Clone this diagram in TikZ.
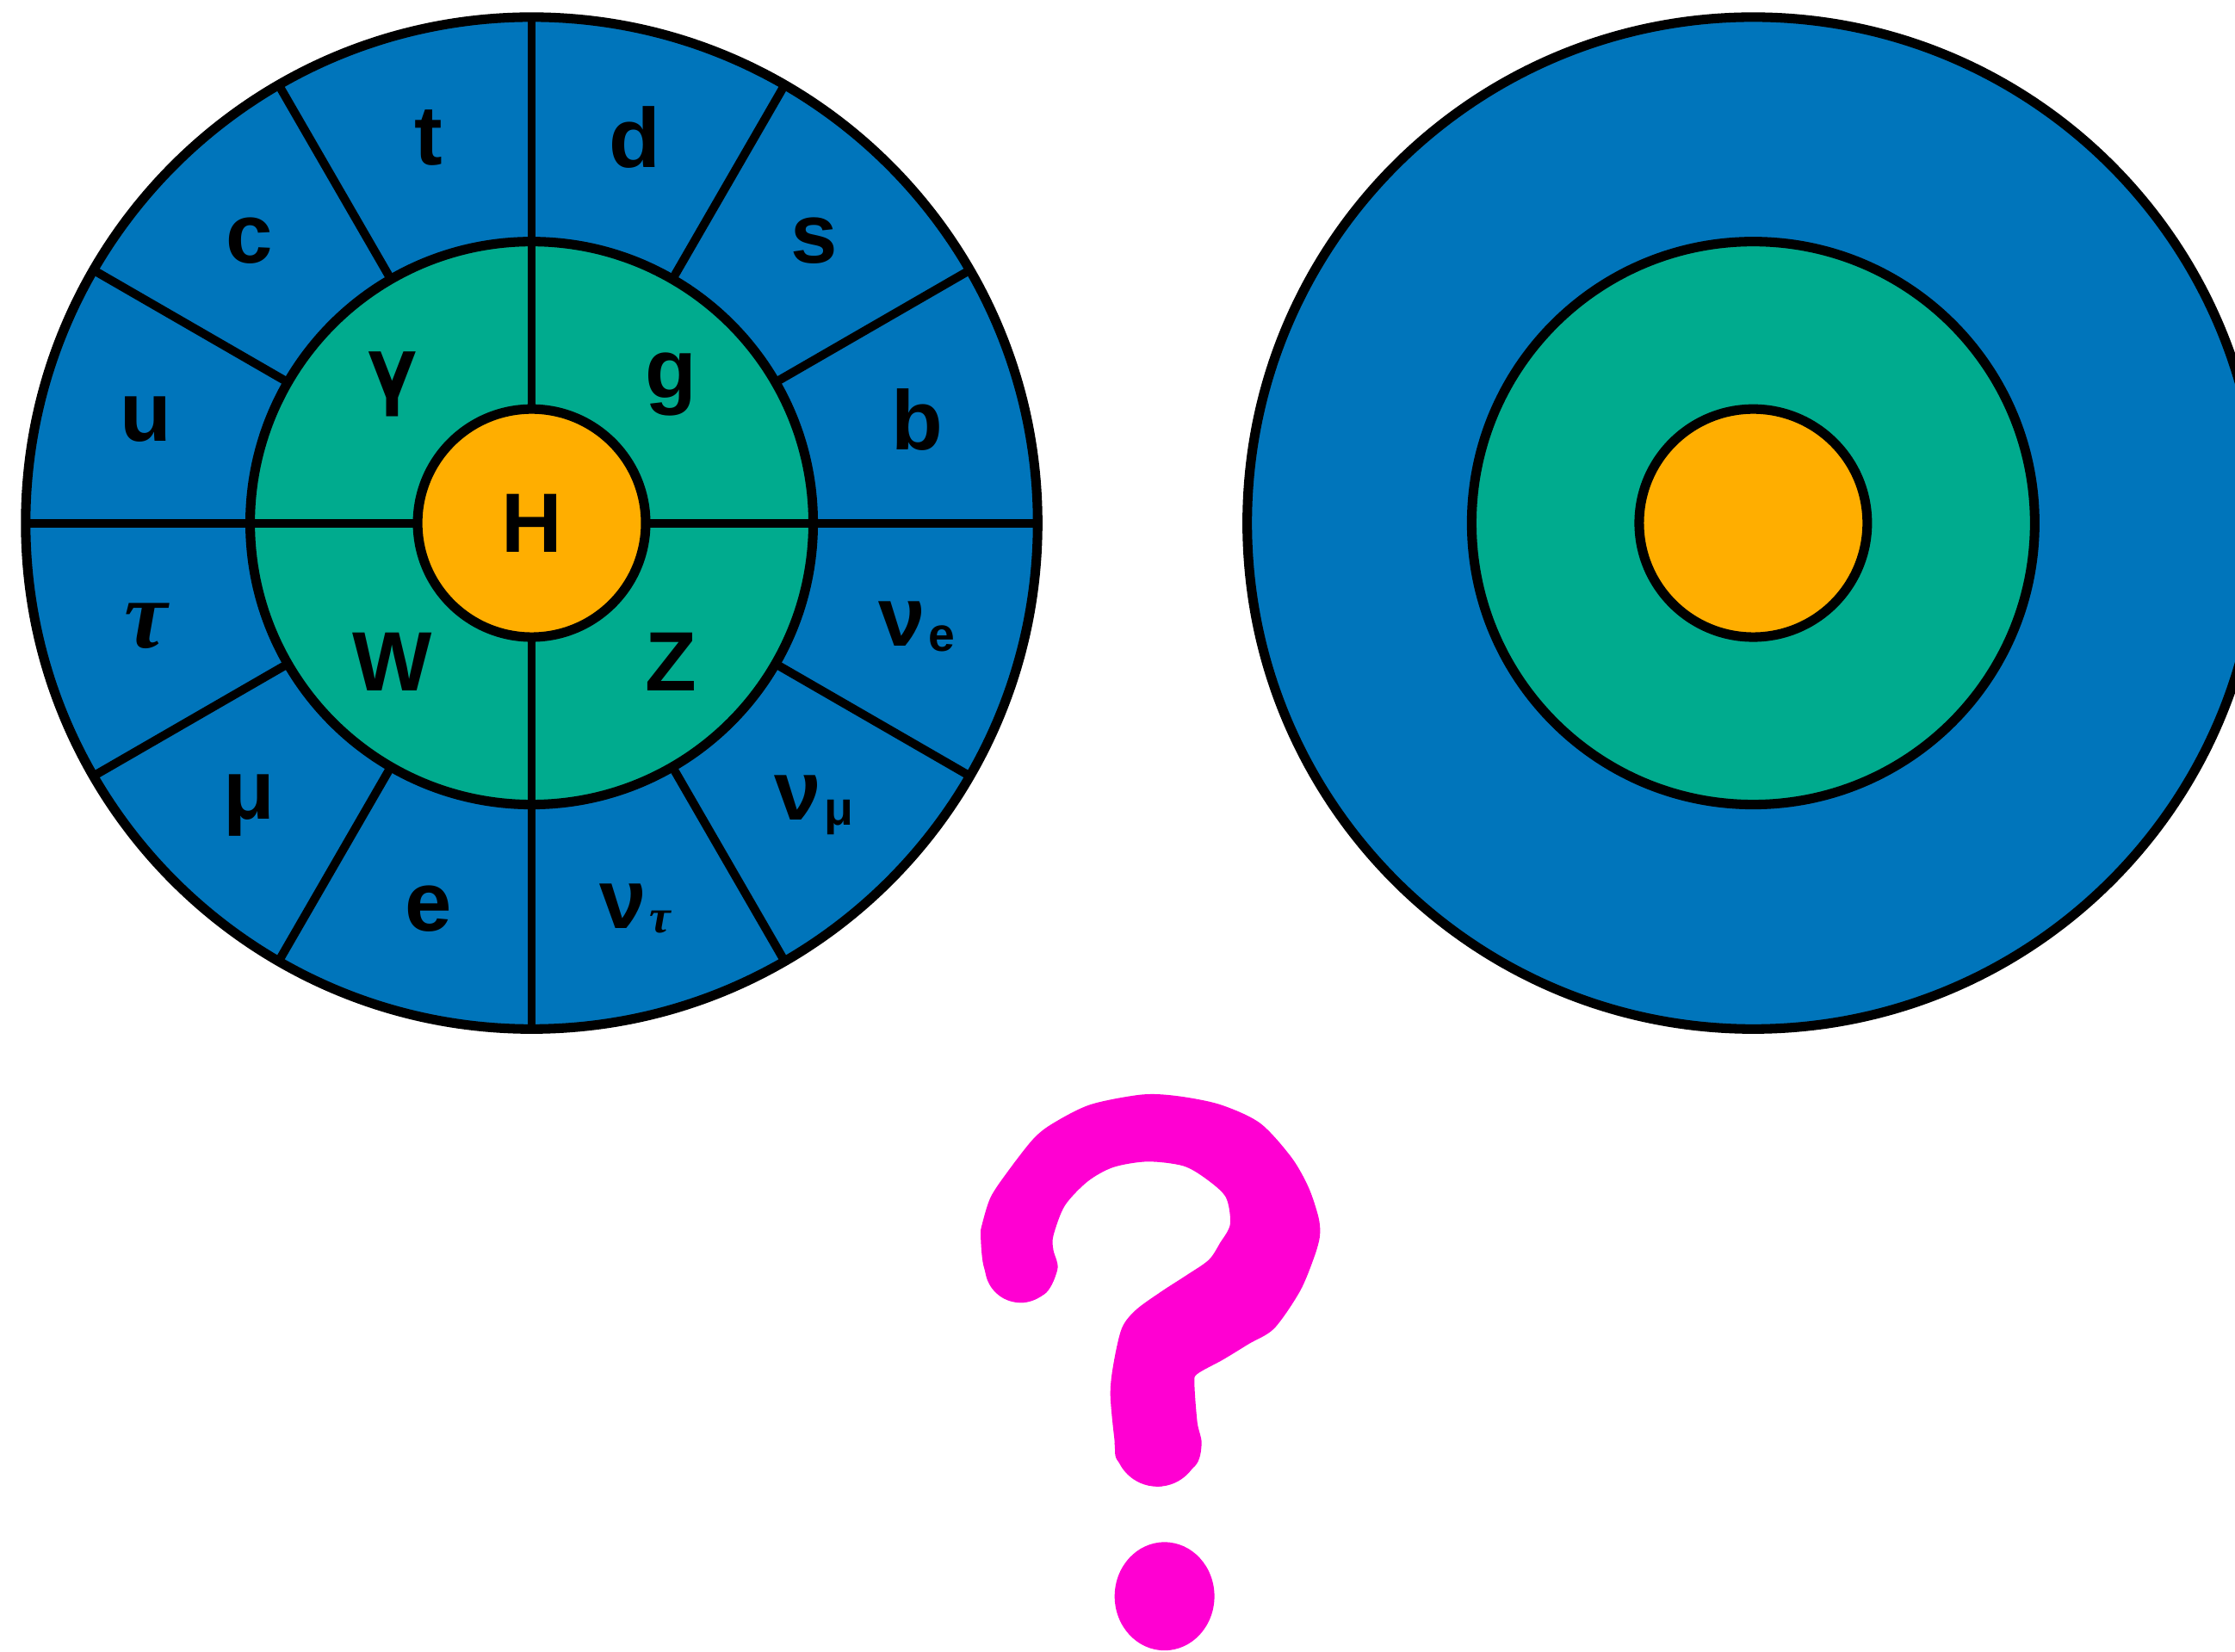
\documentclass[tikz,border=0pt]{standalone}
\usepackage{fontspec}
\setmainfont{Liberation Sans}
\newfontfamily\taufamily{Liberation Serif}
\newfontfamily\greekfamily{TeX Gyre Heros}
\usetikzlibrary{calc}
\definecolor{fermionblue}{RGB}{0,117,187}
\definecolor{bosongreen}{RGB}{0,171,142}
\definecolor{higgsorange}{RGB}{255,174,0}
\definecolor{querypink}{RGB}{255,0,210}
\newcommand{\taulabel}{{\taufamily\bfseries\itshape\scalebox{1.15}{τ}}}
\newcommand{\greek}[1]{{\greekfamily\bfseries #1}}
\newcommand{\nusub}[1]{ν\kern0.6pt\lower1pt\hbox{\fontsize{9.5}{10}\selectfont\bfseries #1}}

\begin{document}
\begin{tikzpicture}[
  x=0.01cm,y=0.01cm,
  font=\fontsize{16.8}{20}\selectfont\bfseries,
  ring/.style={draw=black,line width=1.9pt},
  divider/.style={draw=black,line width=1.7pt},
  particle/.style={inner sep=0pt,text=black}
]
\useasboundingbox (0,0) rectangle (1568,1159);
\clip (0,0) rectangle (1568,1159);

\coordinate (lc) at (373,792);
\coordinate (rc) at (1230,792);

% -------------------------------------------------------------------------
% Left wheel: fermions outside, gauge bosons in the middle, Higgs inside.
% -------------------------------------------------------------------------
\fill[fermionblue] (lc) circle (355);
\foreach \a in {0,30,...,330}
  {\draw[divider] ($(lc)+(\a:197.5)$) -- ($(lc)+(\a:357)$);}
\draw[ring] (lc) circle (355);
\draw[ring,fill=bosongreen] (lc) circle (197.5);
\foreach \a in {0,90,180,270}
  {\draw[divider] ($(lc)+(\a:80)$) -- ($(lc)+(\a:197.5)$);}
\draw[ring,fill=higgsorange] (lc) circle (80);

\foreach \a/\t [count=\i] in {15/b,45/s,75/d,105/t,135/c,165/u,
    195/{\taulabel},225/μ,255/e,285/{\nusub{{\taufamily\itshape τ}}},
    315/{\nusub{μ}},345/{\nusub{e}}}
  {\node[particle] (ferm\i) at ($(lc)+(\a:280)$) {\t};}
\foreach \a/\t [count=\i] in {45/g,135/{\greek{γ}},225/W,315/Z}
  {\node[particle] (gauge\i) at ($(lc)+(\a:138)$) {\t};}
\node[particle] (higgs) at (lc) {H};

% -------------------------------------------------------------------------
% Right wheel: the same rings, unlabeled and undivided.
% -------------------------------------------------------------------------
\draw[ring,fill=fermionblue] (rc) circle (355);
\draw[ring,fill=bosongreen] (rc) circle (197.5);
\draw[ring,fill=higgsorange] (rc) circle (80);

% Hand-drawn question mark, traced as an outline plus round stroke ends.
\fill[querypink] plot[smooth cycle,tension=0.5] coordinates {
  (739,282) (742,269) (734,252) (716,245) (698,253) (690,271) (688,292)
  (689,300) (695,319) (707,337) (725,360) (739,371) (765,384) (801,391)
  (826,390) (856,384) (884,371) (906,347) (918,326) (925,305) (926,292)
  (922,277) (912,253) (894,227) (876,216) (858,205) (840,195) (838,188)
  (840,161) (843,146) (838,130) (812,116) (785,133) (782,148) (779,180)
  (781,201) (787,227) (797,240) (815,253) (832,264) (848,275) (856,287)
  (863,300) (860,319) (846,332) (830,341) (805,344) (781,340) (763,330)
  (747,313) (739,292)};
\fill[querypink] (716,270) circle (25);
\fill[querypink] (812,146) circle (30);
\fill[querypink] (817,39) ellipse (35 and 38);
\end{tikzpicture}
\end{document}
